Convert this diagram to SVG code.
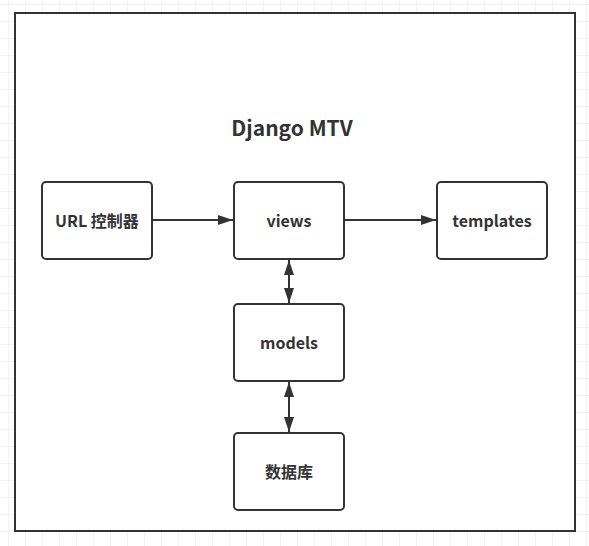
<svg xmlns="http://www.w3.org/2000/svg" width="589" height="546" viewBox="0 0 589 546">
<style>
.node rect{fill:#fff;stroke:#333;stroke-width:2}
.node text{font-family:"Noto Sans CJK SC","Noto Sans",sans-serif;font-weight:bold;font-size:16px;fill:#333;text-anchor:middle;dominant-baseline:central}
.conn line{stroke:#333;stroke-width:2}
.title{font-family:"Noto Sans CJK SC","Noto Sans",sans-serif;font-weight:bold;font-size:21px;fill:#333;text-anchor:middle;dominant-baseline:central}
</style>
<defs>
<pattern id="grid" x="8" y="4" width="17" height="17" patternUnits="userSpaceOnUse">
<path d="M0 0V17M0 0H17" fill="none" stroke="#e8e8e8" stroke-width="1"/>
</pattern>
<marker id="ah" viewBox="0 0 15 10" refX="15" refY="5" markerWidth="15" markerHeight="10" markerUnits="userSpaceOnUse" orient="auto-start-reverse">
<path d="M0 0L15 5L0 10Z" fill="#333"/>
</marker>
</defs>
<rect width="589" height="546" fill="#fff"/>
<rect width="589" height="546" fill="url(#grid)"/>
<rect x="15" y="13" width="560" height="518" fill="#fff" stroke="#333" stroke-width="2"/>
<text class="title" x="292" y="127">Django MTV</text>
<g class="conn">
<line x1="153" y1="220" x2="233" y2="220" marker-end="url(#ah)"/>
<line x1="345" y1="220" x2="436" y2="220" marker-end="url(#ah)"/>
<line x1="289" y1="260" x2="289" y2="303" marker-start="url(#ah)" marker-end="url(#ah)"/>
<line x1="289" y1="382" x2="289" y2="432" marker-start="url(#ah)" marker-end="url(#ah)"/>
</g>
<g id="url" class="node"><rect x="42" y="182" width="110" height="77" rx="4"/><text x="97" y="220">URL 控制器</text></g>
<g id="views" class="node"><rect x="234" y="182" width="110" height="77" rx="4"/><text x="289" y="220">views</text></g>
<g id="templates" class="node"><rect x="437" y="182" width="110" height="77" rx="4"/><text x="492" y="220">templates</text></g>
<g id="models" class="node"><rect x="234" y="304" width="110" height="77" rx="4"/><text x="289" y="342">models</text></g>
<g id="db" class="node"><rect x="234" y="433" width="110" height="77" rx="4"/><text x="289" y="471">数据库</text></g>
</svg>
